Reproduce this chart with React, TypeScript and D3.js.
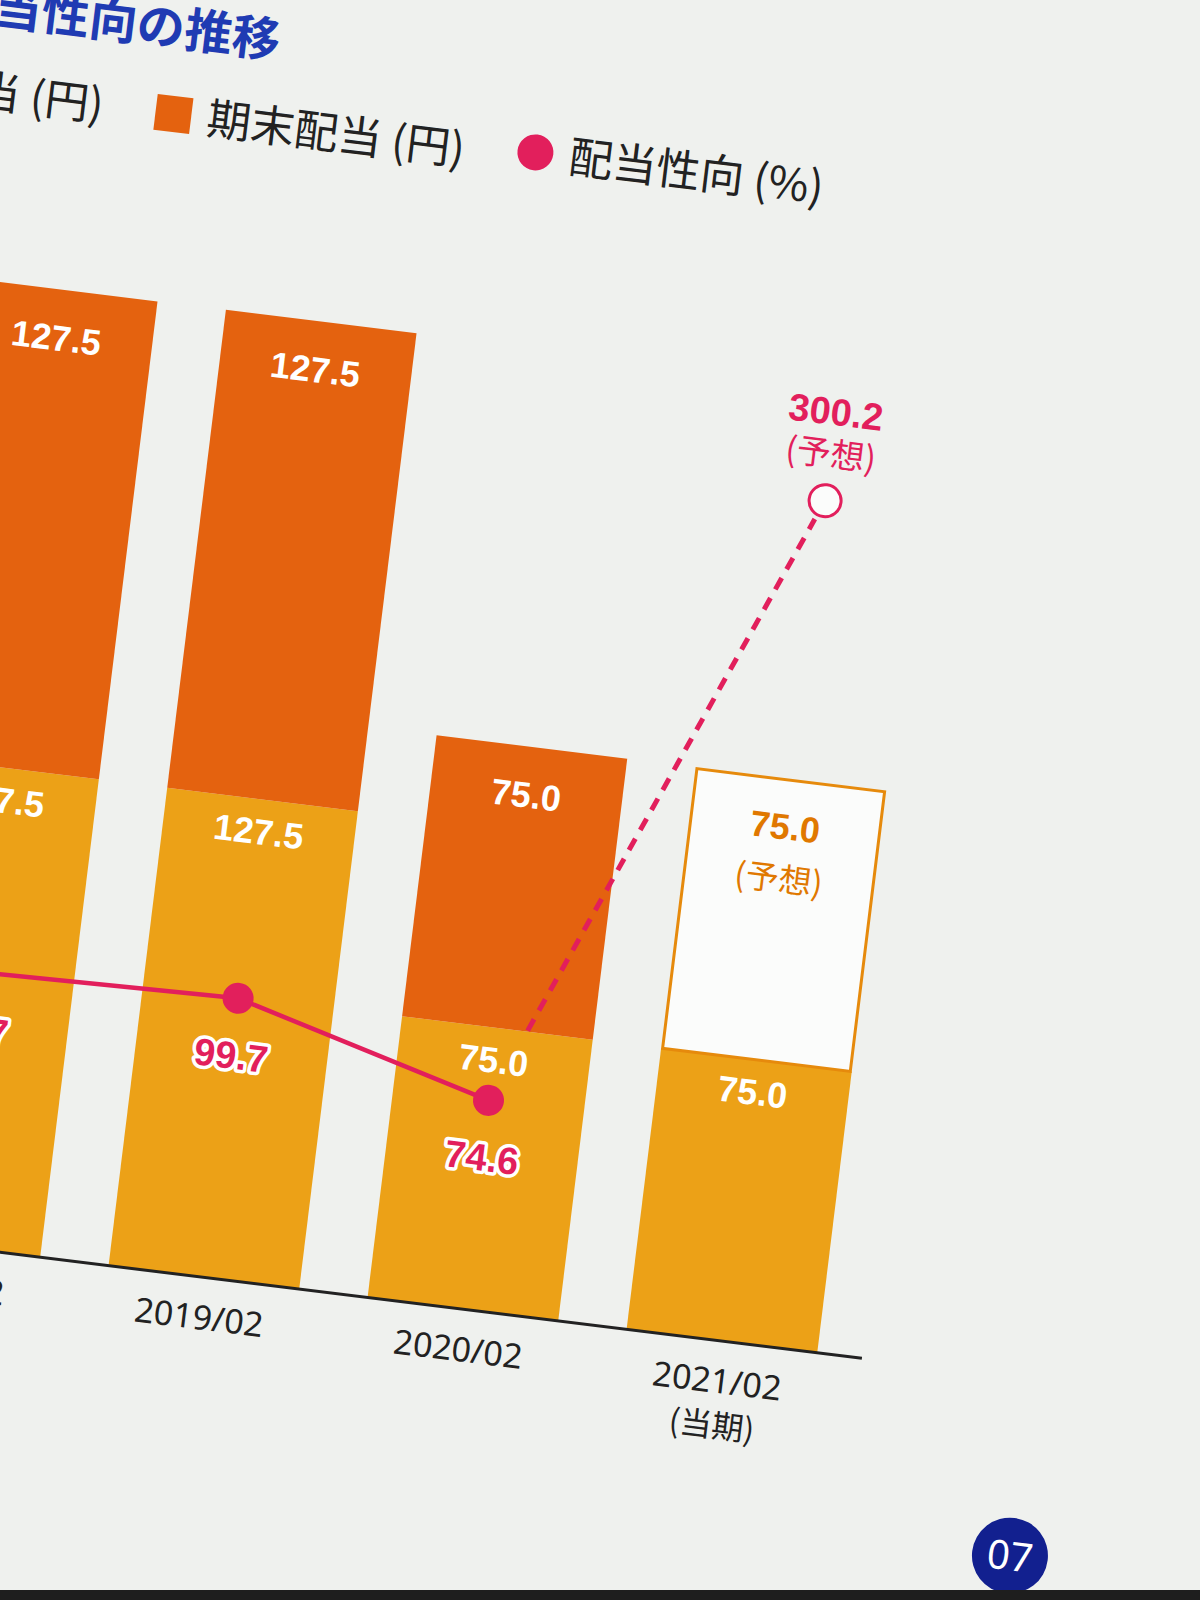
import React from "react";
import * as d3 from "d3";

// data (page is photographed at a tilt)
const categories = ["2018/02", "2019/02", "2020/02", "2021/02"];
const subLabels = ["", "", "", "(当期)"];
const interimDividend = [127.5, 127.5, 75.0, 75.0];
const yearEndDividend = [127.5, 127.5, 75.0, 75.0];
const yearEndForecast = [false, false, false, true];
const payoutRatio = [97.7, 99.7, 74.6, 300.2];
const payoutForecast = [false, false, false, true];
const legendLabels = ["中間配当 (円)", "期末配当 (円)", "配当性向 (%)"];
const title = "配当金・配当性向の推移";
const forecastNote = "(予想)";
const pageNumber = "07";

const W = 1200;
const H = 1600;
const TILT = 7; // degrees, page rotated in the photo
const BASE = 1243;

const PAPER = "#eff1ee";
const LIGHT = "#eca117";
const DEEP = "#e4620f";
const OUTLINE = "#e68a0c";
const RED = "#e21f5c";
const NAVY = "#12208f";
const BLUE = "#1f3bb3";
const INK = "#222";

const NUM_FONT = "'Liberation Sans', Arial, sans-serif";
const JP_FONT = "'Noto Sans CJK JP', 'Noto Sans', sans-serif";
const AXIS_FONT = "'Noto Sans', 'Noto Sans CJK JP', sans-serif";

export default function App() {
  const x = d3
    .scaleBand()
    .domain(categories)
    .range([1, 976])
    .paddingInner(0.264)
    .paddingOuter(0);
  const yDiv = d3.scaleLinear().domain([0, 255]).range([BASE, 280]);
  const yPct = d3.scaleLinear().domain([0, 100]).range([BASE, 961]);
  const bw = x.bandwidth();
  const cx = (c: string) => (x(c) as number) + bw / 2;

  const pts = categories.map(
    (c, i) => [cx(c), yPct(payoutRatio[i])] as [number, number]
  );
  const actual = pts.filter((_, i) => !payoutForecast[i]);
  const fcIdx = payoutForecast.indexOf(true);
  const last = actual[actual.length - 1];
  const fc = pts[fcIdx];
  const ddx = fc[0] - last[0];
  const ddy = fc[1] - last[1];
  const len = Math.hypot(ddx, ddy);
  const gap = 80;
  const ringR = 16;
  const dashFrom = [last[0] + (ddx * gap) / len, last[1] + (ddy * gap) / len];
  const dashTo = [
    fc[0] - (ddx * (ringR + 5)) / len,
    fc[1] - (ddy * (ringR + 5)) / len,
  ];
  const linePath = d3.line()(actual) || "";

  const legendStep = 364;
  const legendStart = -178;
  const legendV = 92;

  return (
    <div>
      <style>{`body{margin:0}`}</style>
      <svg width={W} height={H} style={{ display: "block" }}>
        <rect width={W} height={H} fill={PAPER} />
        <g transform={`rotate(${TILT})`}>
          {/* title */}
          <text
            x={283}
            y={24}
            textAnchor="end"
            fontFamily={JP_FONT}
            fontWeight={700}
            fontSize={48}
            fill={BLUE}
          >
            {title}
          </text>

          {/* legend */}
          {legendLabels.map((lab, i) => {
            const lx = legendStart + i * legendStep;
            return (
              <g key={lab}>
                {i < 2 ? (
                  <rect
                    x={lx - 18}
                    y={legendV - 18}
                    width={36}
                    height={36}
                    fill={i === 0 ? LIGHT : DEEP}
                  />
                ) : (
                  <circle cx={lx} cy={legendV - 6} r={18} fill={RED} />
                )}
                <text
                  x={lx + 34}
                  y={legendV + (i === 2 ? -6 : 0)}
                  dy="0.36em"
                  fontFamily={JP_FONT}
                  fontSize={44}
                  fill={INK}
                >
                  {lab}
                </text>
              </g>
            );
          })}

          {/* stacked bars */}
          {categories.map((c, i) => {
            const x0 = x(c) as number;
            const splitY = yDiv(interimDividend[i]);
            const topY = yDiv(interimDividend[i] + yearEndDividend[i]);
            const fcst = yearEndForecast[i];
            return (
              <g key={c}>
                <rect
                  x={x0}
                  y={splitY}
                  width={bw}
                  height={BASE - splitY}
                  fill={LIGHT}
                />
                {fcst ? (
                  <rect
                    x={x0 + 1.5}
                    y={topY + 1.5}
                    width={bw - 3}
                    height={splitY - topY - 1.5}
                    fill="#fbfcfb"
                    stroke={OUTLINE}
                    strokeWidth={3}
                  />
                ) : (
                  <rect
                    x={x0}
                    y={topY}
                    width={bw}
                    height={splitY - topY}
                    fill={DEEP}
                  />
                )}
                <text
                  x={cx(c)}
                  y={topY + 48}
                  dy="0.36em"
                  textAnchor="middle"
                  fontFamily={NUM_FONT}
                  fontWeight={700}
                  fontSize={36}
                  fill={fcst ? "#e07800" : "#fff"}
                >
                  {yearEndDividend[i].toFixed(1)}
                </text>
                {fcst && (
                  <text
                    x={cx(c)}
                    y={topY + 101}
                    dy="0.36em"
                    textAnchor="middle"
                    fontFamily={JP_FONT}
                    fontSize={33}
                    fill="#e07800"
                  >
                    {forecastNote}
                  </text>
                )}
                <text
                  x={cx(c)}
                  y={splitY + 32}
                  dy="0.36em"
                  textAnchor="middle"
                  fontFamily={NUM_FONT}
                  fontWeight={700}
                  fontSize={36}
                  fill="#fff"
                >
                  {interimDividend[i].toFixed(1)}
                </text>
              </g>
            );
          })}

          {/* baseline + category labels */}
          <line x1={-250} x2={1021} y1={BASE} y2={BASE} stroke={INK} strokeWidth={3} />
          {categories.map((c, i) => (
            <g key={`t-${c}`}>
              <text
                x={cx(c)}
                y={BASE + 40}
                dy="0.36em"
                textAnchor="middle"
                fontFamily={AXIS_FONT}
                fontSize={34}
                fill={INK}
              >
                {c}
              </text>
              {subLabels[i] && (
                <text
                  x={cx(c)}
                  y={BASE + 85}
                  dy="0.36em"
                  textAnchor="middle"
                  fontFamily={JP_FONT}
                  fontSize={32}
                  fill={INK}
                >
                  {subLabels[i]}
                </text>
              )}
            </g>
          ))}

          {/* payout ratio line */}
          <path d={linePath} fill="none" stroke={RED} strokeWidth={4.5} />
          <line
            x1={dashFrom[0]}
            y1={dashFrom[1]}
            x2={dashTo[0]}
            y2={dashTo[1]}
            stroke={RED}
            strokeWidth={5}
            strokeDasharray="13 10"
          />
          {pts.map((p, i) =>
            payoutForecast[i] ? (
              <g key={`p-${i}`}>
                <circle
                  cx={p[0]}
                  cy={p[1]}
                  r={ringR}
                  fill="#fbfcfb"
                  stroke={RED}
                  strokeWidth={3}
                />
                <text
                  x={p[0]}
                  y={p[1] - 90}
                  dy="0.36em"
                  textAnchor="middle"
                  fontFamily={NUM_FONT}
                  fontWeight={700}
                  fontSize={38}
                  fill={RED}
                >
                  {payoutRatio[i].toFixed(1)}
                </text>
                <text
                  x={p[0]}
                  y={p[1] - 47}
                  dy="0.36em"
                  textAnchor="middle"
                  fontFamily={JP_FONT}
                  fontSize={34}
                  fill={RED}
                >
                  {forecastNote}
                </text>
              </g>
            ) : (
              <g key={`p-${i}`}>
                <circle cx={p[0]} cy={p[1]} r={15.5} fill={RED} />
                <text
                  x={p[0]}
                  y={p[1] + 57}
                  dy="0.36em"
                  textAnchor="middle"
                  fontFamily={NUM_FONT}
                  fontWeight={700}
                  fontSize={38}
                  fill={RED}
                  stroke="#fff"
                  strokeWidth={7}
                  strokeLinejoin="round"
                  paintOrder="stroke"
                >
                  {payoutRatio[i].toFixed(1)}
                </text>
              </g>
            )
          )}

          {/* page number */}
          <circle cx={1192} cy={1421} r={38} fill={NAVY} />
          <text
            x={1192}
            y={1421}
            dy="0.36em"
            textAnchor="middle"
            fontFamily={AXIS_FONT}
            fontSize={40}
            fill="#fff"
          >
            {pageNumber}
          </text>
        </g>
        <rect x={0} y={H - 10} width={W} height={10} fill="#1e1e1e" />
      </svg>
    </div>
  );
}
